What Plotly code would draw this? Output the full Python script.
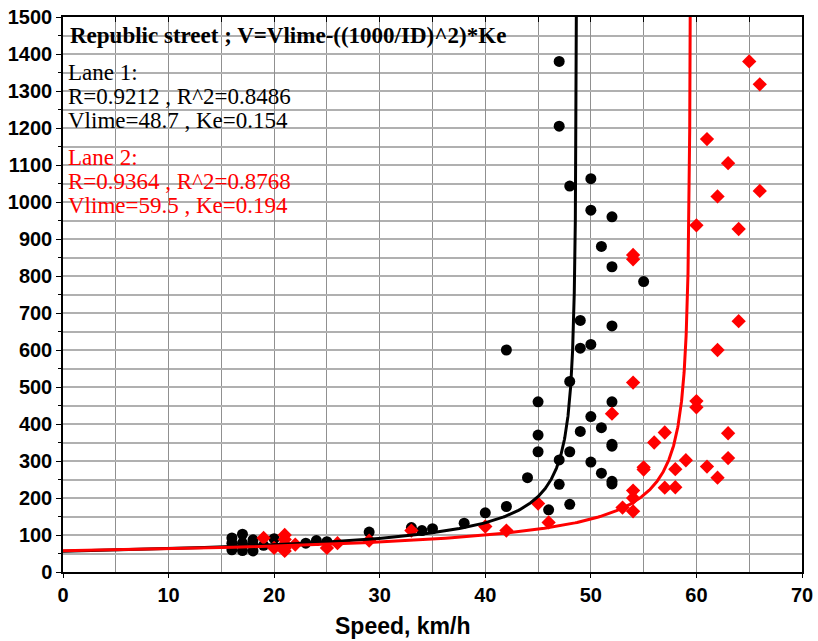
import numpy as np
import plotly.graph_objects as go

# ---------------- data ----------------
lane1_speed = [16, 16, 16, 17, 17, 17, 18, 18, 18, 19, 20, 23, 24, 25, 29, 33, 34, 35,
               38, 40, 42, 42, 44, 45, 45, 45, 46, 47, 47, 47, 47, 48, 48, 48, 48,
               49, 49, 49, 50, 50, 50, 50, 50, 51, 51, 51, 52, 52, 52, 52, 52, 52, 52, 52, 55]
lane1_density = [92, 78, 60, 102, 78, 58, 87, 73, 57, 72, 90, 78, 85, 82, 108, 120, 112, 117,
                 132, 160, 177, 600, 255, 460, 370, 325, 168, 1380, 1205, 303, 237, 1043, 515, 325, 183,
                 680, 605, 380, 1063, 978, 615, 420, 297, 880, 390, 267, 960, 825, 665, 460, 345, 340, 245, 238, 785]

lane2_speed = [19, 20, 21, 21, 21, 21, 21, 22, 25, 26, 29, 33, 40, 42, 45, 46,
               52, 53, 54, 54, 54, 54, 54, 54, 55, 55, 56, 57, 57, 58, 58, 59,
               60, 60, 60, 61, 61, 62, 62, 62, 63, 63, 63, 64, 64, 65, 66, 66]
lane2_density = [92, 65, 100, 88, 75, 65, 57, 74, 65, 78, 85, 112, 123, 112, 185, 134,
                 428, 174, 857, 845, 512, 220, 200, 164, 283, 277, 350, 377, 228, 278, 229, 302,
                 937, 462, 445, 1170, 285, 1015, 600, 255, 1105, 375, 308, 927, 678, 1380, 1318, 1030]

# fitted model parameters: V = Vlime - ((1000/ID)^2)*Ke
lane1_vlime, lane1_ke = 48.7, 0.154
lane2_vlime, lane2_ke = 59.5, 0.194

title_text = "Republic street ; V=Vlime-((1000/ID)^2)*Ke"
lane1_lines = ["Lane 1:", "R=0.9212 , R^2=0.8486", "Vlime=48.7 , Ke=0.154"]
lane2_lines = ["Lane 2:", "R=0.9364 , R^2=0.8768", "Vlime=59.5 , Ke=0.194"]
x_title = "Speed, km/h"


def model_curve(vlime, ke):
    id0 = 1000.0 / np.sqrt(vlime / ke)
    ids = np.concatenate([np.linspace(id0, 300, 200), np.linspace(300, 1600, 400)])
    v = vlime - (1000.0 / ids) ** 2 * ke
    return v, ids


fig = go.Figure()
fig.add_trace(go.Scatter(x=lane1_speed, y=lane1_density, mode="markers",
                         marker=dict(symbol="circle", size=11, color="black"), cliponaxis=False))
fig.add_trace(go.Scatter(x=lane2_speed, y=lane2_density, mode="markers",
                         marker=dict(symbol="diamond", size=11, color="#ff0000"), cliponaxis=False))
v1, d1 = model_curve(lane1_vlime, lane1_ke)
v2, d2 = model_curve(lane2_vlime, lane2_ke)
fig.add_trace(go.Scatter(x=v1, y=d1, mode="lines", line=dict(color="black", width=3)))
fig.add_trace(go.Scatter(x=v2, y=d2, mode="lines", line=dict(color="#ff0000", width=3)))
# invisible helper trace for the top tick axis
fig.add_trace(go.Scatter(x=[0], y=[0], xaxis="x2", mode="markers",
                         marker=dict(opacity=0), hoverinfo="skip"))

L, R, T, B = 63, 802, 17, 572
W, H = 818, 641


def px(x):
    return (x - L) / (R - L)


def py(y):
    return (B - y) / (B - T)


xgrid = "#909090"
ygrid = "#b0b0b0"
tickfont = dict(family="Liberation Sans, Arial, sans-serif", size=20, color="black", weight="bold")

fig.update_layout(
    width=W, height=H,
    margin=dict(l=L, r=W - R, t=T, b=H - B, autoexpand=False),
    plot_bgcolor="white", paper_bgcolor="white",
    showlegend=False,
    xaxis=dict(range=[0, 70], tick0=0, dtick=10, showgrid=True, gridcolor=xgrid, gridwidth=1,
               minor=dict(dtick=5, showgrid=True, gridcolor=xgrid, gridwidth=1),
               showline=True, linecolor="black", linewidth=1.5, mirror=True, automargin=False,
               ticks="outside", ticklen=4, tickcolor="black", tickfont=tickfont, zeroline=False),
    xaxis2=dict(range=[0, 70], overlaying="x", side="top", tick0=0, dtick=5, showgrid=False,
                ticks="inside", ticklen=5, tickcolor="black", showticklabels=False,
                showline=False, zeroline=False, automargin=False),
    yaxis=dict(range=[0, 1500], tick0=0, dtick=100, showgrid=True, gridcolor=ygrid, gridwidth=1.5,
               minor=dict(dtick=50, showgrid=True, gridcolor=ygrid, gridwidth=1.5,
                          ticks="outside", ticklen=3, tickcolor="black"),
               showline=True, linecolor="black", linewidth=1.5, mirror=True, automargin=False,
               ticks="outside", ticklen=5, tickcolor="black", tickfont=tickfont, zeroline=False),
)

# white text boxes
fig.add_shape(type="rect", xref="paper", yref="paper", x0=px(64), x1=px(518), y0=py(20), y1=py(53),
              fillcolor="white", line=dict(width=0), layer="between")
fig.add_shape(type="rect", xref="paper", yref="paper", x0=px(64), x1=px(298), y0=py(57), y1=py(219),
              fillcolor="white", line=dict(width=0), layer="between")

serif = "Liberation Serif, Times New Roman, serif"
fig.add_annotation(x=px(68), y=py(36), xref="paper", yref="paper", xanchor="left", yanchor="middle",
                   text=title_text, showarrow=False,
                   font=dict(family=serif, size=23, color="black", weight="bold"))
ys1 = [72, 96, 121]
ys2 = [157, 181, 206]
for t, yv in zip(lane1_lines, ys1):
    fig.add_annotation(x=px(66), y=py(yv), xref="paper", yref="paper", xanchor="left", yanchor="middle",
                       text=t, showarrow=False, font=dict(family=serif, size=23, color="black"))
for t, yv in zip(lane2_lines, ys2):
    fig.add_annotation(x=px(66), y=py(yv), xref="paper", yref="paper", xanchor="left", yanchor="middle",
                       text=t, showarrow=False, font=dict(family=serif, size=23, color="#ff0000"))

# x axis title
fig.add_annotation(x=px(402), y=py(626), xref="paper", yref="paper", xanchor="center", yanchor="middle",
                   text=x_title, showarrow=False,
                   font=dict(family="Liberation Sans, Arial, sans-serif", size=23, color="black", weight="bold"))

fig.write_html("out.html")
